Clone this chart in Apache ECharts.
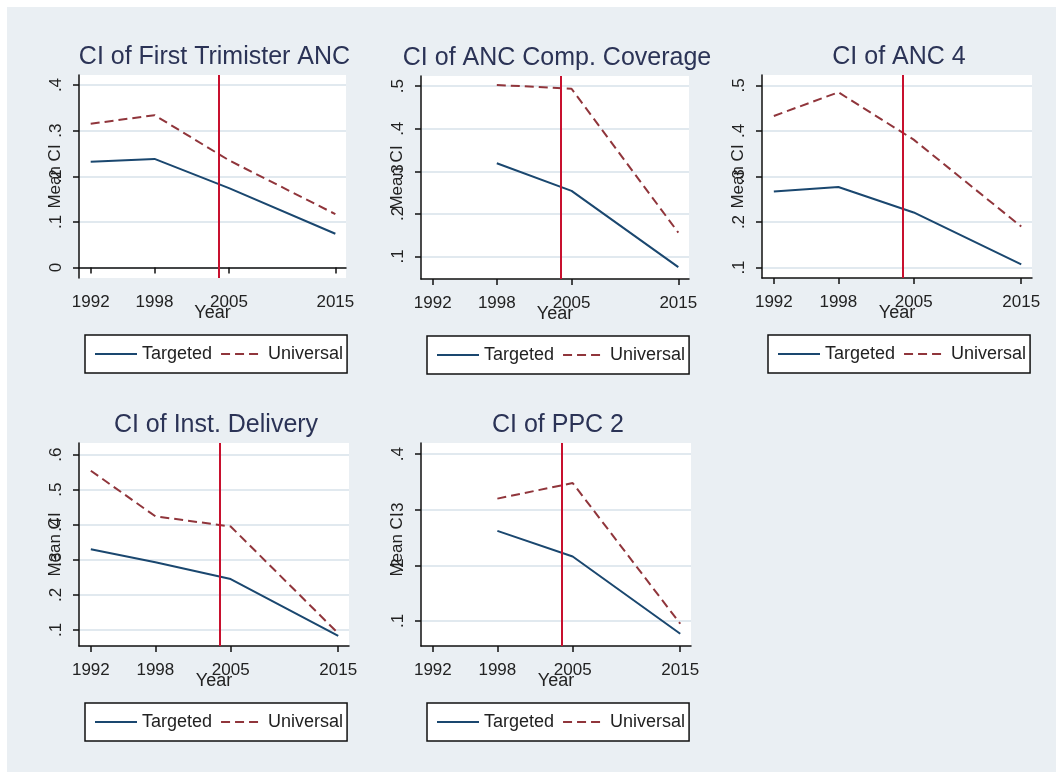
<!DOCTYPE html>
<html>
<head>
<meta charset="utf-8">
<title>CI by year</title>
<script src="https://cdn.jsdelivr.net/npm/echarts@6/dist/echarts.min.js"></script>
<style>
    body { margin: 0; background: #fff; }
    #main { position: absolute; left: 7px; top: 7px; width: 1049px; height: 765px; }
</style>
</head>
<body>
<div id="main"></div>
<script>
    // data
    const years = [1992, 1998, 2005, 2015]
    const policyYear = 2004
    const panelTitles = [
        'CI of First Trimister ANC',
        'CI of ANC Comp. Coverage',
        'CI of ANC 4',
        'CI of Inst. Delivery',
        'CI of PPC 2'
    ]
    const targeted = [
        [0.232, 0.238, 0.174, 0.074],
        [null, 0.319, 0.254, 0.075],
        [0.267, 0.277, 0.221, 0.107],
        [0.330, 0.293, 0.245, 0.083],
        [null, 0.262, 0.216, 0.077]
    ]
    const universal = [
        [0.315, 0.334, 0.235, 0.117],
        [null, 0.503, 0.494, 0.156],
        [0.433, 0.485, 0.381, 0.190],
        [0.554, 0.424, 0.395, 0.090],
        [null, 0.320, 0.348, 0.095]
    ]
    const yTicks = [
        [0, 0.1, 0.2, 0.3, 0.4],
        [0.1, 0.2, 0.3, 0.4, 0.5],
        [0.1, 0.2, 0.3, 0.4, 0.5],
        [0.1, 0.2, 0.3, 0.4, 0.5, 0.6],
        [0.1, 0.2, 0.3, 0.4]
    ]
    // axis extents (stata pads past the outer ticks)
    const yMin = [-0.023, 0.047, 0.077, 0.054, 0.055]
    const yMax = [0.422, 0.524, 0.523, 0.633, 0.420]

    //panel layout, container coords
    const panelPos = [
        {left: 72, top: 68, width: 267},
        {left: 414, top: 69, width: 268},
        {left: 755, top: 68, width: 270},
        {left: 72, top: 436, width: 270},
        {left: 414, top: 436, width: 270}
    ]
    const plotHeight = 203

    const font = 'Liberation Sans, Arial, sans-serif'
    const navy = '#1a476f'
    const maroon = '#90353b'

    const fmtTick = v => {
        const s = String(+v.toFixed(2))
        return s.replace(/^0\./, '.')
    }

    const chart = echarts.init(document.getElementById('main'))
    const option = {
        backgroundColor: '#eaeff3',
        animation: false,
        title: [],
        legend: [],
        grid: [],
        xAxis: [],
        yAxis: [],
        series: []
    }

    panelTitles.forEach((name, i) => {
        const p = panelPos[i]
        const rowTop = p.top
        option.grid.push({
            left: p.left,
            top: rowTop,
            width: p.width,
            height: plotHeight,
            show: true,
            backgroundColor: '#ffffff',
            borderWidth: 0
        })
        option.title.push({
            text: name,
            left: p.left + p.width / 2 - 3,
            top: rowTop - 35,
            textAlign: 'center',
            textStyle: {fontFamily: font, fontSize: 25, fontWeight: 'normal', color: '#2b3356'}
        })
        option.legend.push({
            data: ['Targeted', 'Universal'],
            left: p.left + 6,
            top: rowTop + 260,
            orient: 'horizontal',
            itemWidth: 42,
            itemHeight: 14,
            itemGap: 8,
            padding: [10, 4, 10, 9],
            itemStyle: {opacity: 0},
            backgroundColor: '#ffffff',
            borderColor: '#111',
            borderWidth: 1.5,
            borderRadius: 0,
            textStyle: {fontFamily: font, fontSize: 18, color: '#222'}
        })
        option.xAxis.push({
            type: 'value',
            gridIndex: i,
            min: 1990.9,
            max: 2016,
            name: 'Year',
            nameLocation: 'middle',
            nameGap: 26,
            nameMoveOverlap: false,
            nameTextStyle: {fontFamily: font, fontSize: 18, color: '#222'},
            axisLine: {show: true, lineStyle: {color: '#111', width: 1.5}},
            axisTick: {show: true, length: 6, lineStyle: {color: '#111', width: 1.5}, customValues: years},
            axisLabel: {
                customValues: years,
                margin: 16,
                fontFamily: font,
                fontSize: 17,
                color: '#222',
                formatter: v => String(v)
            },
            splitLine: {show: false}
        })
        option.yAxis.push({
            type: 'value',
            gridIndex: i,
            min: yMin[i],
            max: yMax[i],
            name: 'Mean CI',
            nameLocation: 'middle',
            nameGap: 15,
            nameMoveOverlap: false,
            nameTextStyle: {fontFamily: font, fontSize: 17, color: '#222'},
            axisLine: {show: true, lineStyle: {color: '#111', width: 1.5}},
            axisTick: {show: true, length: 6, lineStyle: {color: '#111', width: 1.5}, customValues: yTicks[i]},
            axisLabel: {
                customValues: yTicks[i],
                rotate: 90,
                margin: 14,
                fontFamily: font,
                fontSize: 17,
                color: '#222',
                formatter: fmtTick
            },
            splitLine: {show: true, lineStyle: {color: '#e1e9ef', width: 2}}
        })
        option.series.push({
            name: 'Targeted',
            type: 'line',
            xAxisIndex: i,
            yAxisIndex: i,
            symbol: 'none',
            data: years.map((y, k) => [y, targeted[i][k]]).filter(d => d[1] != null),
            lineStyle: {color: navy, width: 2},
            itemStyle: {color: navy},
            markLine: {
                silent: true,
                symbol: ['none', 'none'],
                label: {show: false},
                lineStyle: {color: '#c8102e', width: 2, type: 'solid'},
                data: [{xAxis: policyYear}]
            }
        })
        option.series.push({
            name: 'Universal',
            type: 'line',
            xAxisIndex: i,
            yAxisIndex: i,
            symbol: 'none',
            data: years.map((y, k) => [y, universal[i][k]]).filter(d => d[1] != null),
            lineStyle: {color: maroon, width: 2, type: [9, 5]},
            itemStyle: {color: maroon}
        })
    })

    chart.setOption(option)
</script>
</body>
</html>
